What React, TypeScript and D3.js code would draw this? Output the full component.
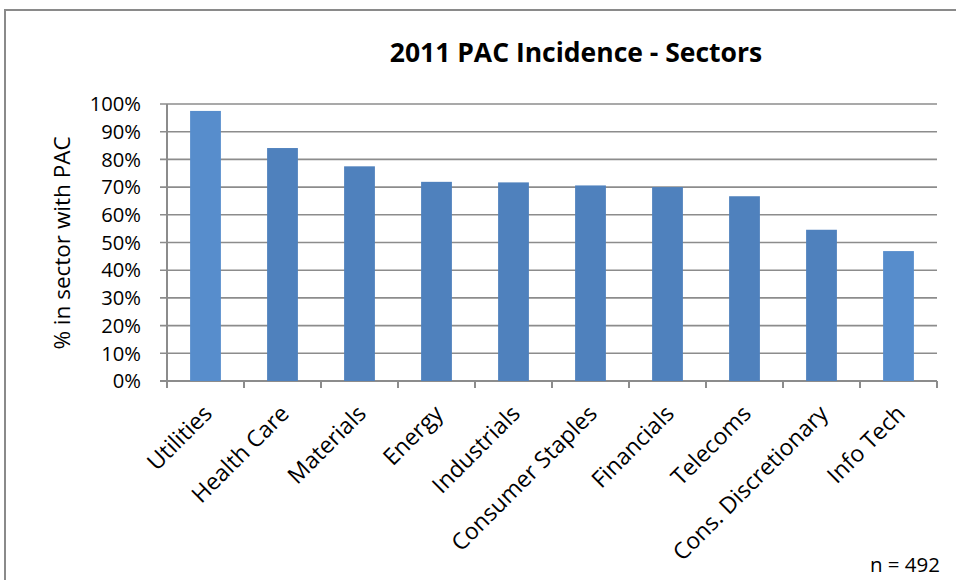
import React from "react";
import * as d3 from "d3";

const categories = ["Utilities", "Health Care", "Materials", "Energy", "Industrials", "Consumer Staples", "Financials", "Telecoms", "Cons. Discretionary", "Info Tech"];
const values = [97.5, 84.1, 77.5, 71.9, 71.7, 70.6, 70.0, 66.7, 54.6, 46.9];
const barColors = ["#578DCC", "#4F81BD", "#4F81BD", "#4F81BD", "#4F81BD", "#4F81BD", "#4F81BD", "#4F81BD", "#4F81BD", "#578DCC"];
const yTicks = [0, 10, 20, 30, 40, 50, 60, 70, 80, 90, 100];
const title = "2011 PAC Incidence - Sectors";
const yTitle = "% in sector with PAC";
const note = "n = 492";

const W = 956, H = 580;
const FONT = "'Open Sans', sans-serif";

export default function App() {
  const left = 167, right = 937, top = 104, bottom = 381;
  const x = d3.scaleBand<string>().domain(categories).range([left, right]).paddingInner(0.6).paddingOuter(0.3);
  const y = d3.scaleLinear().domain([0, 100]).range([bottom, top]);
  const xb = d3.scaleBand<string>().domain(categories).range([left, right]);
  const edges = categories.map((c) => xb(c)!).concat([right]);
  return (
    <svg width={W} height={H} style={{ position: "absolute", left: 0, top: 0 }}>
      <rect x={0} y={0} width={W} height={H} fill="#fff" />
      <rect x={5} y={10} width={W + 10} height={H + 10} fill="none" stroke="#8a8a8a" strokeWidth={2} />
      <text x={576} y={62} textAnchor="middle" fontFamily={FONT} fontWeight="bold" fontSize={26.5} fill="#000">{title}</text>
      {yTicks.map((t) => (
        <g key={t}>
          <line x1={left - 7} x2={right} y1={y(t)} y2={y(t)} stroke="#8c8c8c" strokeWidth={t === 0 ? 2 : 1.6} />
          <text x={141} y={y(t) + 7.2} textAnchor="end" fontFamily={FONT} fontSize={20.2} fill="#000">{t}%</text>
        </g>
      ))}
      <line x1={left} x2={left} y1={top} y2={bottom} stroke="#8c8c8c" strokeWidth={2} />
      {edges.map((e, i) => (
        <line key={i} x1={e} x2={e} y1={bottom} y2={bottom + 7} stroke="#8c8c8c" strokeWidth={2} />
      ))}
      {categories.map((c, i) => (
        <rect key={c} x={x(c)!} y={y(values[i])} width={x.bandwidth()} height={y(0) - y(values[i])} fill={barColors[i]} />
      ))}
      {categories.map((c) => {
        const cx = xb(c)! + xb.bandwidth() / 2 + 8;
        const cy = bottom + 34;
        return (
          <text key={c} transform={`translate(${cx},${cy}) rotate(-45)`} textAnchor="end" fontFamily={FONT} fontSize={23} fill="#000">{c}</text>
        );
      })}
      <text transform={`translate(70,243) rotate(-90)`} textAnchor="middle" fontFamily={FONT} fontSize={22.5} fill="#000">{yTitle}</text>
      <text x={940} y={572} textAnchor="end" fontFamily={FONT} fontSize={20.5} fill="#000">{note}</text>
    </svg>
  );
}
